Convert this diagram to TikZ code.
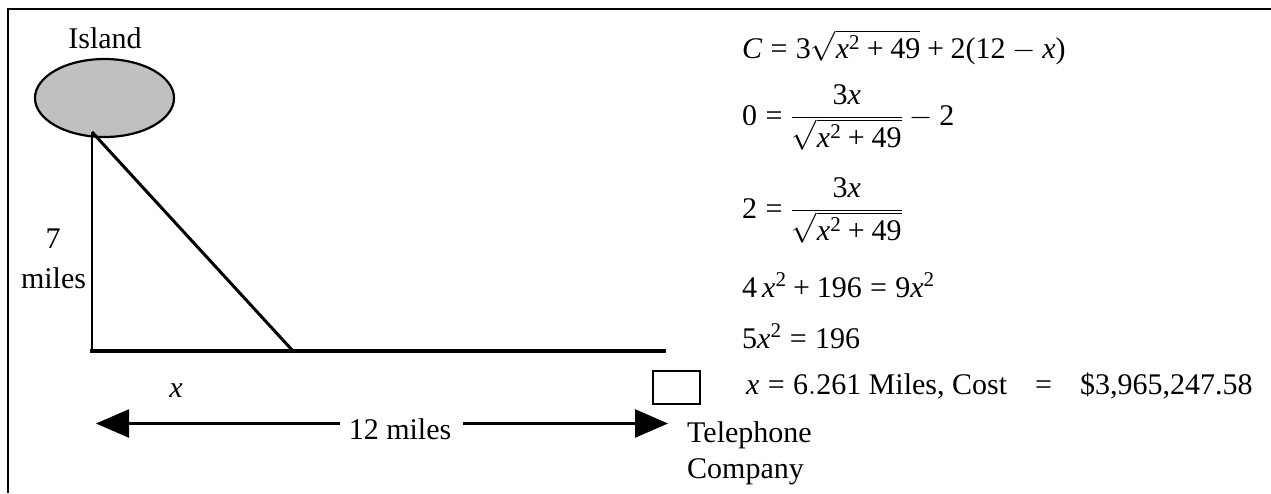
\RequirePackage{fix-cm}
\documentclass[tikz,border=0pt]{standalone}
\usepackage[no-math]{fontspec}
\setmainfont{Liberation Serif}
\edef\mainfamid{\rmdefault}
\AtBeginDocument{%
  \DeclareSymbolFont{operators}{TU}{\mainfamid}{m}{n}%
  \DeclareMathAlphabet{\mathit}{TU}{\mainfamid}{m}{it}%
}
\usetikzlibrary{shapes.geometric,arrows.meta}
\definecolor{islandgray}{HTML}{C0C0C0}
\tikzset{
  lbl/.style={inner sep=0pt, font=\fontsize{30}{36}\selectfont},
  eqn/.style={lbl, anchor=base west},
  framestyle/.style={line width=2.5pt},
  legstyle/.style={line width=2.5pt},
  cablestyle/.style={line width=3pt},
  shorestyle/.style={line width=4.5pt},
  dimarrow/.style={line width=2.5pt, -{Triangle[length=33pt,width=28pt]}},
}
\newcommand{\vx}{\mathit{x}}
\newcommand{\bigfrac}[2]{{\displaystyle\frac{#1}{#2}}}
\begin{document}
\begin{tikzpicture}[x=1pt,y=-1pt]
\useasboundingbox (0,0) rectangle (1271,493);
% frame
\coordinate (fr) at (1271,9);
\coordinate (fc) at (8,9);
\coordinate (fb) at (8,493);
\draw[framestyle] (fr) -- (fc) -- (fb);
% island
\node[ellipse, draw, line width=2.2pt, fill=islandgray, minimum width=139pt, minimum height=78pt, inner sep=0pt] (island) at (104.5,98) {};
\node[lbl, anchor=base] (islandlbl) at (105,48) {Island};
% geometry
\coordinate (top) at (92,132);
\coordinate (corner) at (92,351);
\coordinate (hit) at (293,351);
\coordinate (shorestart) at (90,351);
\coordinate (shoreend) at (666,351);
\draw[legstyle] (top) -- (corner);
\draw[cablestyle] (top) -- (hit);
\draw[shorestyle] (shorestart) -- (shoreend);
\node[lbl, anchor=base] (seven) at (53,248) {7};
\node[lbl, anchor=base] (miles) at (53.5,288) {miles};
\node[lbl, anchor=base] (xlbl) at (176,397) {\textit{x}};
% dimension arrow
\node[lbl, anchor=base] (twelve) at (400,439) {12 miles};
\coordinate (la) at (96,423.5);
\coordinate (ra) at (668,423.5);
\coordinate (gl) at (340,423.5);
\coordinate (gr) at (463,423.5);
\draw[dimarrow] (gl) -- (la);
\draw[dimarrow] (gr) -- (ra);
% telephone company
\node[draw, line width=2.2pt, minimum width=47pt, minimum height=33pt, inner sep=0pt] (phone) at (676.5,387.5) {};
\node[lbl, anchor=base west] (tel) at (687,442) {Telephone};
\node[lbl, anchor=base west] (comp) at (687,478) {Company};
% equations
\node[eqn] (eq1) at (742,58) {$\mathit{C} = 3\sqrt{\vx^{2} + 49} + 2(12 - \vx)$};
\node[eqn] (eq2) at (742,125) {$0 = \bigfrac{3\vx}{\sqrt{\vx^{2} + 49}} - 2$};
\node[eqn] (eq3) at (742,218) {$2 = \bigfrac{3\vx}{\sqrt{\vx^{2} + 49}}$};
\node[eqn] (eq4) at (742,297) {$4\,\vx^{2} + 196 = 9\vx^{2}$};
\node[eqn] (eq5) at (742,348) {$5\vx^{2} = 196$};
\node[eqn] (eq6) at (746,394) {$\vx = 6.261$ Miles, Cost\hspace{28pt}=\hspace{28pt}\$3,965,247.58};
\end{tikzpicture}
\end{document}
